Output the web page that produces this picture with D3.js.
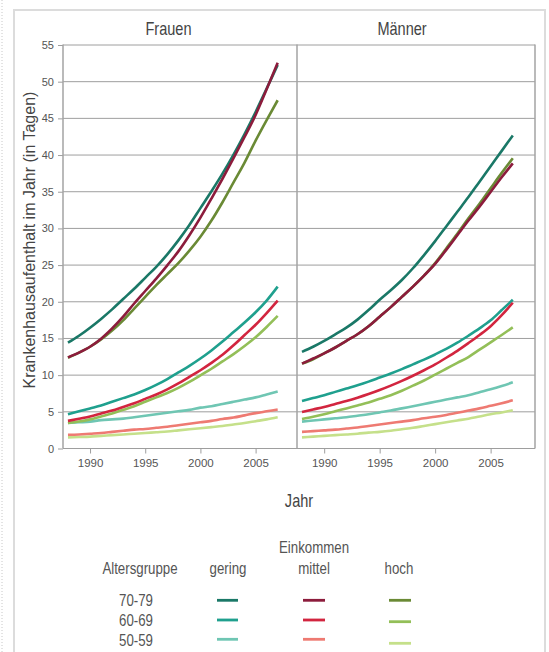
<!DOCTYPE html>
<html>
<head>
<meta charset="utf-8">
<script src="https://cdn.jsdelivr.net/npm/d3@7"></script>
<style>
  html, body { margin: 0; padding: 0; background: #fff; }
  svg { display: block; }
  text { font-family: "Liberation Sans", Arial, sans-serif; fill: #555; }
</style>
</head>
<body>
<svg id="chart" width="549" height="652"></svg>
<script>
// ---------------- data ----------------
const years = [1988,1989,1990,1991,1992,1993,1994,1995,1996,1997,1998,1999,2000,2001,2002,2003,2004,2005,2006,2007];
const panels = ["Frauen", "Männer"];
const incomes = ["gering", "mittel", "hoch"];
const ageGroups = ["70-79", "60-69", "50-59"];
const yTicks = [0,5,10,15,20,25,30,35,40,45,50,55];
const xTicks = [1990,1995,2000,2005];

// Frauen
const frauenGering7079 = [14.35,15.3,16.4,17.6,18.9,20.3,21.7,23.2,24.7,26.4,28.3,30.4,32.7,35.0,37.4,40.0,42.8,45.8,49.0,52.2];
const frauenMittel7079 = [12.35,13.0,13.8,14.9,16.3,17.9,19.7,21.4,23.1,24.9,26.8,29.0,31.4,34.0,36.7,39.5,42.4,45.4,48.9,52.5];
const frauenHoch7079   = [12.3,13.0,13.8,14.8,16.0,17.4,19.0,20.6,22.2,23.7,25.2,26.9,28.8,31.0,33.5,36.2,38.9,41.9,44.7,47.4];
const frauenGering6069 = [4.6,5.0,5.4,5.8,6.3,6.8,7.3,7.9,8.6,9.4,10.3,11.2,12.2,13.3,14.5,15.8,17.1,18.5,20.1,22.0];
const frauenMittel6069 = [3.7,4.0,4.3,4.7,5.1,5.6,6.1,6.7,7.3,8.0,8.8,9.7,10.6,11.6,12.7,14.0,15.4,16.8,18.4,20.1];
const frauenHoch6069   = [3.4,3.6,3.9,4.3,4.7,5.2,5.7,6.3,6.9,7.5,8.2,9.0,9.9,10.8,11.8,12.8,13.9,15.1,16.5,18.0];
const frauenGering5059 = [3.4,3.5,3.6,3.8,3.9,4.0,4.2,4.4,4.6,4.8,5.0,5.2,5.5,5.7,6.0,6.3,6.6,6.9,7.3,7.7];
const frauenMittel5059 = [1.8,1.85,1.95,2.05,2.2,2.35,2.5,2.6,2.75,2.9,3.1,3.3,3.5,3.7,3.95,4.15,4.45,4.75,5.0,5.25];
const frauenHoch5059   = [1.45,1.5,1.55,1.65,1.75,1.85,1.95,2.05,2.15,2.25,2.4,2.55,2.7,2.85,3.0,3.2,3.4,3.65,3.9,4.2];

// Männer
const maennerGering7079 = [13.1,13.8,14.6,15.5,16.4,17.5,18.8,20.2,21.5,22.9,24.5,26.3,28.2,30.2,32.2,34.2,36.3,38.4,40.5,42.6];
const maennerMittel7079 = [11.5,12.2,12.9,13.7,14.6,15.5,16.6,17.9,19.2,20.6,22.0,23.5,25.1,27.0,29.0,31.0,32.9,34.9,36.9,38.8];
const maennerHoch7079   = [11.5,12.1,12.9,13.7,14.6,15.5,16.6,17.9,19.2,20.6,22.0,23.5,25.2,27.2,29.2,31.3,33.3,35.4,37.5,39.5];
const maennerGering6069 = [6.4,6.8,7.2,7.65,8.1,8.55,9.05,9.6,10.15,10.75,11.4,12.05,12.75,13.5,14.35,15.3,16.3,17.4,18.8,20.2];
const maennerMittel6069 = [4.9,5.25,5.6,6.0,6.4,6.85,7.35,7.9,8.5,9.15,9.85,10.6,11.4,12.3,13.25,14.3,15.4,16.6,18.1,19.8];
const maennerHoch6069   = [3.95,4.25,4.6,5.0,5.4,5.8,6.2,6.7,7.2,7.8,8.5,9.2,10.0,10.8,11.6,12.4,13.4,14.4,15.4,16.45];
const maennerGering5059 = [3.6,3.75,3.9,4.05,4.2,4.4,4.6,4.85,5.1,5.4,5.7,6.0,6.3,6.6,6.9,7.2,7.6,8.0,8.45,8.95];
const maennerMittel5059 = [2.2,2.3,2.4,2.5,2.65,2.8,3.0,3.2,3.4,3.6,3.8,4.05,4.25,4.5,4.8,5.1,5.4,5.75,6.1,6.5];
const maennerHoch5059   = [1.45,1.55,1.65,1.75,1.85,1.95,2.1,2.2,2.35,2.55,2.75,3.0,3.25,3.5,3.75,4.0,4.3,4.6,4.85,5.15];

// colours per [age][income]
const colors = {
  "70-79": {gering: "#1a7867", mittel: "#8c1c3c", hoch: "#6a8a35"},
  "60-69": {gering: "#1fa08e", mittel: "#d2253f", hoch: "#93bf58"},
  "50-59": {gering: "#6fc6b3", mittel: "#ee7a72", hoch: "#c5e08a"}
};

const seriesByPanel = {
  "Frauen": {
    "70-79": {gering: frauenGering7079, mittel: frauenMittel7079, hoch: frauenHoch7079},
    "60-69": {gering: frauenGering6069, mittel: frauenMittel6069, hoch: frauenHoch6069},
    "50-59": {gering: frauenGering5059, mittel: frauenMittel5059, hoch: frauenHoch5059}
  },
  "Männer": {
    "70-79": {gering: maennerGering7079, mittel: maennerMittel7079, hoch: maennerHoch7079},
    "60-69": {gering: maennerGering6069, mittel: maennerMittel6069, hoch: maennerHoch6069},
    "50-59": {gering: maennerGering5059, mittel: maennerMittel5059, hoch: maennerHoch5059}
  }
};

// ---------------- layout ----------------
const svg = d3.select("#chart");
const plotTop = 44.5, plotBottom = 448;
const panelX = [[63, 297], [297, 535]];
const panelDomain = [[1987.55, 2008.75], [1987.55, 2009.0]];
const titleX = [168.5, 402];
const squeeze = 0.83;   // horizontal condensing of the text face

// condensed text helper
function label(parent, x, y, str, size, color, anchor) {
  return parent.append("text")
    .attr("transform", `translate(${x},${y}) scale(${squeeze},1)`)
    .attr("text-anchor", anchor || "middle")
    .attr("font-size", size)
    .style("fill", color || "#555")
    .text(str);
}

const yScale = d3.scaleLinear().domain([0, 55]).range([plotBottom, plotTop]);

// outer frame
svg.append("line").attr("x1", 2).attr("x2", 2).attr("y1", 0).attr("y2", 652)
  .attr("stroke", "#c8c8c8").attr("stroke-dasharray", "1,2");
svg.append("rect").attr("x", 14).attr("y", 10).attr("width", 531).attr("height", 700)
  .attr("fill", "none").attr("stroke", "#dcdcdc").attr("stroke-width", 2);

// horizontal gridlines across both panels
svg.append("g").selectAll("line").data(yTicks).join("line")
  .attr("x1", panelX[0][0]).attr("x2", panelX[1][1])
  .attr("y1", d => yScale(d) + 0.5).attr("y2", d => yScale(d) + 0.5)
  .attr("stroke", "#9e9e9e").attr("stroke-width", 1);

// y axis ticks and labels
const yAxis = d3.axisLeft(yScale).tickValues(yTicks).tickSize(5).tickPadding(4).tickFormat(d3.format("d"));
const gy = svg.append("g").attr("transform", `translate(${panelX[0][0]},0.5)`).call(yAxis);
gy.select(".domain").remove();
gy.selectAll(".tick line").attr("stroke", "#9e9e9e");
gy.selectAll(".tick text").attr("font-size", 11).style("fill", "#555")
  .style("font-family", '"Liberation Sans", Arial, sans-serif');

const lineGen = d3.line().curve(d3.curveMonotoneX);

panels.forEach((p, i) => {
  const xScale = d3.scaleLinear().domain(panelDomain[i]).range(panelX[i]);

  // panel vertical borders
  svg.append("line").attr("x1", panelX[i][0]).attr("x2", panelX[i][0])
    .attr("y1", plotTop).attr("y2", plotBottom + 0.5)
    .attr("stroke", "#a3a3a3").attr("stroke-width", 1.5);
  if (i === panels.length - 1) {
    svg.append("line").attr("x1", panelX[i][1]).attr("x2", panelX[i][1])
      .attr("y1", plotTop).attr("y2", plotBottom + 0.5)
      .attr("stroke", "#a3a3a3").attr("stroke-width", 1.5);
  }

  // x axis
  const xAxis = d3.axisBottom(xScale).tickValues(xTicks).tickSize(5).tickPadding(5).tickFormat(d3.format("d"));
  const gx = svg.append("g").attr("transform", `translate(0,${plotBottom + 0.5})`).call(xAxis);
  gx.select(".domain").remove();
  gx.selectAll(".tick line").attr("stroke", "#9e9e9e");
  gx.selectAll(".tick text").attr("font-size", 11.5).style("fill", "#555")
    .style("font-family", '"Liberation Sans", Arial, sans-serif');

  // panel title
  label(svg, titleX[i], 35, p, 17.5, "#444");

  // series
  const g = svg.append("g");
  ["50-59", "60-69", "70-79"].forEach(age => {
    ["hoch", "gering", "mittel"].forEach(inc => {
      const vals = seriesByPanel[p][age][inc];
      g.append("path")
        .attr("d", lineGen(years.map((yr, k) => [xScale(yr), yScale(vals[k])])))
        .attr("fill", "none")
        .attr("stroke", colors[age][inc])
        .attr("stroke-width", 2.6)
        .attr("stroke-linejoin", "round")
        .attr("stroke-linecap", "butt");
    });
  });
});

// axis titles
svg.append("text").attr("transform", "translate(35,240) rotate(-90)")
  .attr("text-anchor", "middle").attr("font-size", 16)
  .style("fill", "#444").text("Krankenhausaufenthalt im Jahr (in Tagen)");
label(svg, 299, 507, "Jahr", 17.5, "#444");

// legend
const legIncomeX = {gering: 228, mittel: 314, hoch: 399};
const legLineX = {gering: [217, 238], mittel: [303, 325], hoch: [389, 411]};
const legRowY = {"70-79": 605.5, "60-69": 625.5, "50-59": 645.5};
const legLineY = {
  gering: {"70-79": 600.3, "60-69": 620, "50-59": 639.3},
  mittel: {"70-79": 600.3, "60-69": 620, "50-59": 639.3},
  hoch:   {"70-79": 600.3, "60-69": 621.7, "50-59": 643.3}
};
const lg = svg.append("g");
label(lg, 314, 553, "Einkommen", 16);
label(lg, 140, 574, "Altersgruppe", 16);
incomes.forEach(inc => label(lg, legIncomeX[inc], 574, inc, 16));
ageGroups.forEach(age => {
  label(lg, 136, legRowY[age], age, 16);
  incomes.forEach(inc => {
    lg.append("line")
      .attr("x1", legLineX[inc][0]).attr("x2", legLineX[inc][1])
      .attr("y1", legLineY[inc][age]).attr("y2", legLineY[inc][age])
      .attr("stroke", colors[age][inc]).attr("stroke-width", 2.8);
  });
});
</script>
</body>
</html>
